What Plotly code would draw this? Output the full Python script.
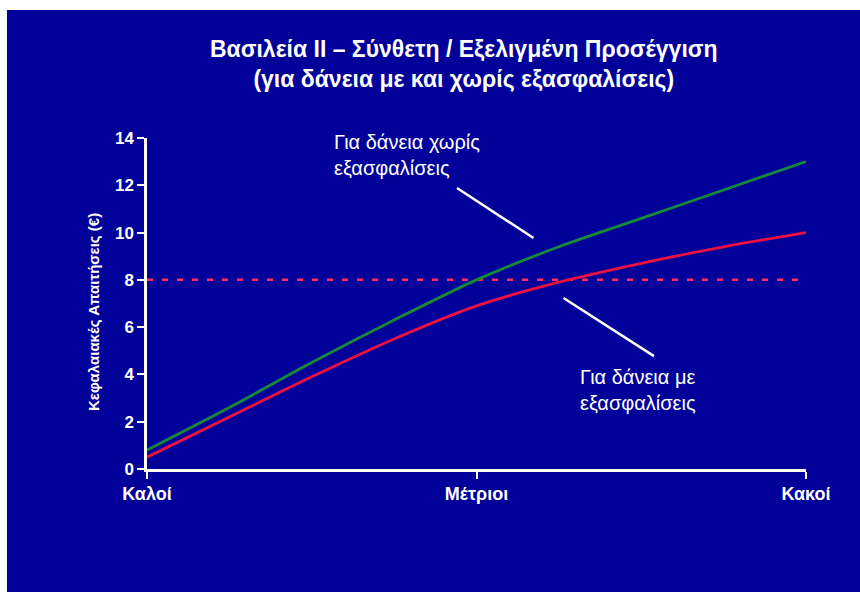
import plotly.graph_objects as go

# ---- data ----
categories = ["Καλοί", "Μέτριοι", "Κακοί"]
cat_pos = [0, 1, 2]
x_pts = [0, 0.25, 0.5, 0.75, 1.0, 1.25, 1.5, 1.75, 2.0]
unsecured = [0.8, 2.6, 4.5, 6.3, 8.0, 9.4, 10.6, 11.8, 13.0]   # Για δάνεια χωρίς εξασφαλίσεις
secured = [0.5, 2.2, 3.9, 5.5, 6.9, 7.9, 8.7, 9.4, 10.0]       # Για δάνεια με εξασφαλίσεις
threshold_x = [0, 2]
threshold_y = [8, 8]
y_ticks = [0, 2, 4, 6, 8, 10, 12, 14]

BLUE = "#010199"
FONT = "Liberation Sans, Arial, sans-serif"

fig = go.Figure()
fig.add_trace(go.Scatter(x=threshold_x, y=threshold_y, mode="lines",
                         line=dict(color="#ff2d5f", width=2.5, dash="6px,9px"),
                         hoverinfo="skip", showlegend=False))
fig.add_trace(go.Scatter(x=x_pts, y=unsecured, mode="lines",
                         line=dict(color="#178a3a", width=2.8, shape="spline", smoothing=0.8),
                         showlegend=False))
fig.add_trace(go.Scatter(x=x_pts, y=secured, mode="lines",
                         line=dict(color="#ee1040", width=2.8, shape="spline", smoothing=0.8),
                         showlegend=False))

annotations = [
    dict(text="<b>Βασιλεία ΙΙ – Σύνθετη / Εξελιγμένη Προσέγγιση<br>(για δάνεια με και χωρίς εξασφαλίσεις)</b>",
         xref="paper", yref="paper", x=0.481, y=1.225, showarrow=False,
         font=dict(family=FONT, size=23, color="white"), align="center",
         xanchor="center", yanchor="middle"),
    dict(text="<b>Κεφαλαιακές Απαιτήσεις (€)</b>", xref="paper", yref="paper",
         x=-0.082, y=0.474, showarrow=False, textangle=-90,
         font=dict(family=FONT, size=15, color="white"),
         xanchor="center", yanchor="middle"),
    dict(text="Για δάνεια χωρίς<br>εξασφαλίσεις", x=0.562, y=13.28, xref="x", yref="y",
         showarrow=False, align="left", xanchor="left", yanchor="middle",
         font=dict(family=FONT, size=20, color="white")),
    dict(text="Για δάνεια με<br>εξασφαλίσεις", x=1.307, y=3.34, xref="x", yref="y",
         showarrow=False, align="left", xanchor="left", yanchor="middle",
         font=dict(family=FONT, size=20, color="white")),
    dict(text="", x=1.173, y=9.77, xref="x", yref="y", ax=-78, ay=-51,
         showarrow=True, arrowhead=0, arrowwidth=2.5, arrowcolor="white"),
    dict(text="", x=1.264, y=7.23, xref="x", yref="y", ax=92, ay=59,
         showarrow=True, arrowhead=0, arrowwidth=2.5, arrowcolor="white"),
]

# white border strips (top and left) as in the reference picture
shapes = [
    dict(type="rect", xref="paper", yref="paper", x0=-0.3, x1=1.2, y0=1.387, y1=1.45,
         fillcolor="white", line=dict(width=0), layer="below"),
    dict(type="rect", xref="paper", yref="paper", x0=-0.3, x1=-0.2125, y0=-0.5, y1=1.45,
         fillcolor="white", line=dict(width=0), layer="below"),
]

fig.update_layout(
    width=860, height=592,
    margin=dict(l=147, r=54, t=138, b=123),
    paper_bgcolor=BLUE, plot_bgcolor=BLUE,
    font=dict(family=FONT, color="white"),
    annotations=annotations, shapes=shapes,
    showlegend=False,
)
fig.update_xaxes(range=[0, 2], tickvals=cat_pos, ticktext=["<b>%s</b>" % c for c in categories],
                 showgrid=False, zeroline=False, showline=True, linecolor="white", linewidth=2.5,
                 ticks="outside", ticklen=7, tickwidth=2, tickcolor="white",
                 tickfont=dict(family=FONT, size=18, color="white"), fixedrange=True)
fig.update_yaxes(range=[0, 14], tickvals=y_ticks, ticktext=["<b>%d</b>" % v for v in y_ticks],
                 showgrid=False, zeroline=False, showline=True, linecolor="white", linewidth=2.5,
                 ticks="outside", ticklen=7, tickwidth=2, tickcolor="white",
                 tickfont=dict(family=FONT, size=17, color="white"), fixedrange=True)

fig.write_html("out.html")
